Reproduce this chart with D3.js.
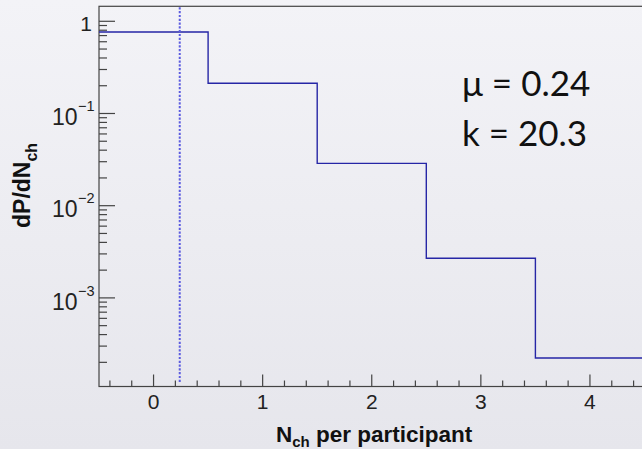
<!DOCTYPE html>
<html><head><meta charset="utf-8">
<script src="https://cdn.jsdelivr.net/npm/d3@7"></script>
<style>html,body{margin:0;padding:0;overflow:hidden}svg{display:block}</style>
</head><body>
<svg id="c" width="642" height="449"></svg>
<script>
// ---- data ----
const binEdges = [-0.5, 0.5, 1.5, 2.5, 3.5, 4.5];
const binValues = [0.765, 0.213, 0.0288, 0.00269, 0.000223];
const meanValue = 0.24;
const xTicks = [0, 1, 2, 3, 4];
const yTicks = [1, 0.1, 0.01, 0.001];
const yTickLabels = [["1", ""], ["10", "\u22121"], ["10", "\u22122"], ["10", "\u22123"]];
const annotations = ["\u03bc = 0.24", "k = 20.3"];

const W = 642, H = 449;
const svg = d3.select("#c");
const defs = svg.append("defs");
const g = defs.append("linearGradient").attr("id", "bg").attr("x1", 0).attr("y1", 0).attr("x2", 0).attr("y2", 1);
g.append("stop").attr("offset", "0%").attr("stop-color", "#f3f3f7");
g.append("stop").attr("offset", "100%").attr("stop-color", "#e6e6ec");
svg.append("rect").attr("width", W).attr("height", H).attr("fill", "url(#bg)");

const L = 99, R = 644.5, T = 6.3, B = 386.5;
const x = d3.scaleLinear().domain([-0.5, 4.5]).range([L, R]);
const y = d3.scaleLog().domain([1.094e-4, 1.454]).range([B, T]);

// frame
svg.append("rect").attr("x", L).attr("y", T).attr("width", R - L).attr("height", B - T)
  .attr("fill", "none").attr("stroke", "#444").attr("stroke-width", 1.2);

// x ticks
const xMinor = d3.range(-4, 45, 2).map(v => v / 10).filter(v => Math.abs(v - Math.round(v)) > 1e-6);
const xTickData = xMinor.map(v => ({v, len: 6})).concat(xTicks.map(v => ({v, len: 12})));
svg.append("g").selectAll("line").data(xTickData).join("line")
  .attr("x1", d => x(d.v)).attr("x2", d => x(d.v))
  .attr("y1", B).attr("y2", d => B - d.len)
  .attr("stroke", "#444").attr("stroke-width", 1.2);

// y ticks
const yMinor = [];
for (let e = -4; e <= 0; e++) for (let m = 2; m <= 9; m++) {
  const v = m * Math.pow(10, e);
  if (v >= 1.094e-4 && v <= 1.454) yMinor.push(v);
}
const yTickData = yMinor.map(v => ({v, len: 8})).concat(yTicks.map(v => ({v, len: 16})));
svg.append("g").selectAll("line").data(yTickData).join("line")
  .attr("x1", L).attr("x2", d => L + d.len)
  .attr("y1", d => y(d.v)).attr("y2", d => y(d.v))
  .attr("stroke", "#444").attr("stroke-width", 1.2);

// x tick labels
svg.append("g").selectAll("text").data(xTicks).join("text")
  .attr("x", d => x(d)).attr("y", B + 22.5)
  .attr("text-anchor", "middle")
  .attr("font-family", "Liberation Sans, Arial, sans-serif").attr("font-size", 21).attr("fill", "#222")
  .text(d => d);

// y tick labels
yTicks.forEach((v, i) => {
  const [base, sup] = yTickLabels[i];
  const yy = y(v);
  if (!sup) {
    svg.append("text").attr("x", 92).attr("y", yy + 9.4).attr("text-anchor", "end")
      .attr("font-family", "Liberation Sans, Arial, sans-serif").attr("font-size", 21).attr("fill", "#222").text(base);
  } else {
    svg.append("text").attr("x", 77.5).attr("y", yy + 11.7).attr("text-anchor", "end")
      .attr("font-family", "Liberation Sans, Arial, sans-serif").attr("font-size", 23).attr("fill", "#222").text(base);
    svg.append("text").attr("x", 78).attr("y", yy - 2.3).attr("text-anchor", "start")
      .attr("font-family", "Liberation Sans, Arial, sans-serif").attr("font-size", 14.5).attr("fill", "#222").text(sup);
  }
});

// histogram
const pts = binValues.map((v, i) => [binEdges[i], v]);
pts.push([binEdges[binEdges.length - 1], binValues[binValues.length - 1]]);
const line = d3.line().x(d => x(d[0])).y(d => y(d[1])).curve(d3.curveStepAfter);
svg.append("path").attr("d", line(pts)).attr("fill", "none")
  .attr("stroke", "#2626a6").attr("stroke-width", 1.4);

// mean line
svg.append("line").attr("x1", x(meanValue)).attr("x2", x(meanValue)).attr("y1", T + 1).attr("y2", B - 3)
  .attr("stroke", "#5c5ce0").attr("stroke-width", 2).attr("stroke-dasharray", "2.2,1.6");

// axis titles
const xt = svg.append("text").attr("x", 276).attr("y", 442)
  .attr("font-family", "Liberation Sans, Arial, sans-serif").attr("font-weight", "bold")
  .attr("font-size", 22.5).attr("fill", "#111");
xt.append("tspan").text("N");
xt.append("tspan").attr("font-size", 15).attr("dy", 5).text("ch");
xt.append("tspan").attr("dy", -5).text(" per participant");

const yt = svg.append("text").attr("transform", "translate(30,228) rotate(-90)")
  .attr("font-family", "Liberation Sans, Arial, sans-serif").attr("font-weight", "bold")
  .attr("font-size", 23).attr("fill", "#111");
yt.append("tspan").text("dP/dN");
yt.append("tspan").attr("font-size", 16).attr("dy", 7).text("ch");

// annotations
svg.append("g").selectAll("text").data(annotations).join("text")
  .attr("x", 462).attr("y", (d, i) => 96 + i * 49.7)
  .attr("font-family", "Lato, sans-serif").attr("font-size", 35).attr("fill", "#111")
  .text(d => d);
</script>
</body></html>
